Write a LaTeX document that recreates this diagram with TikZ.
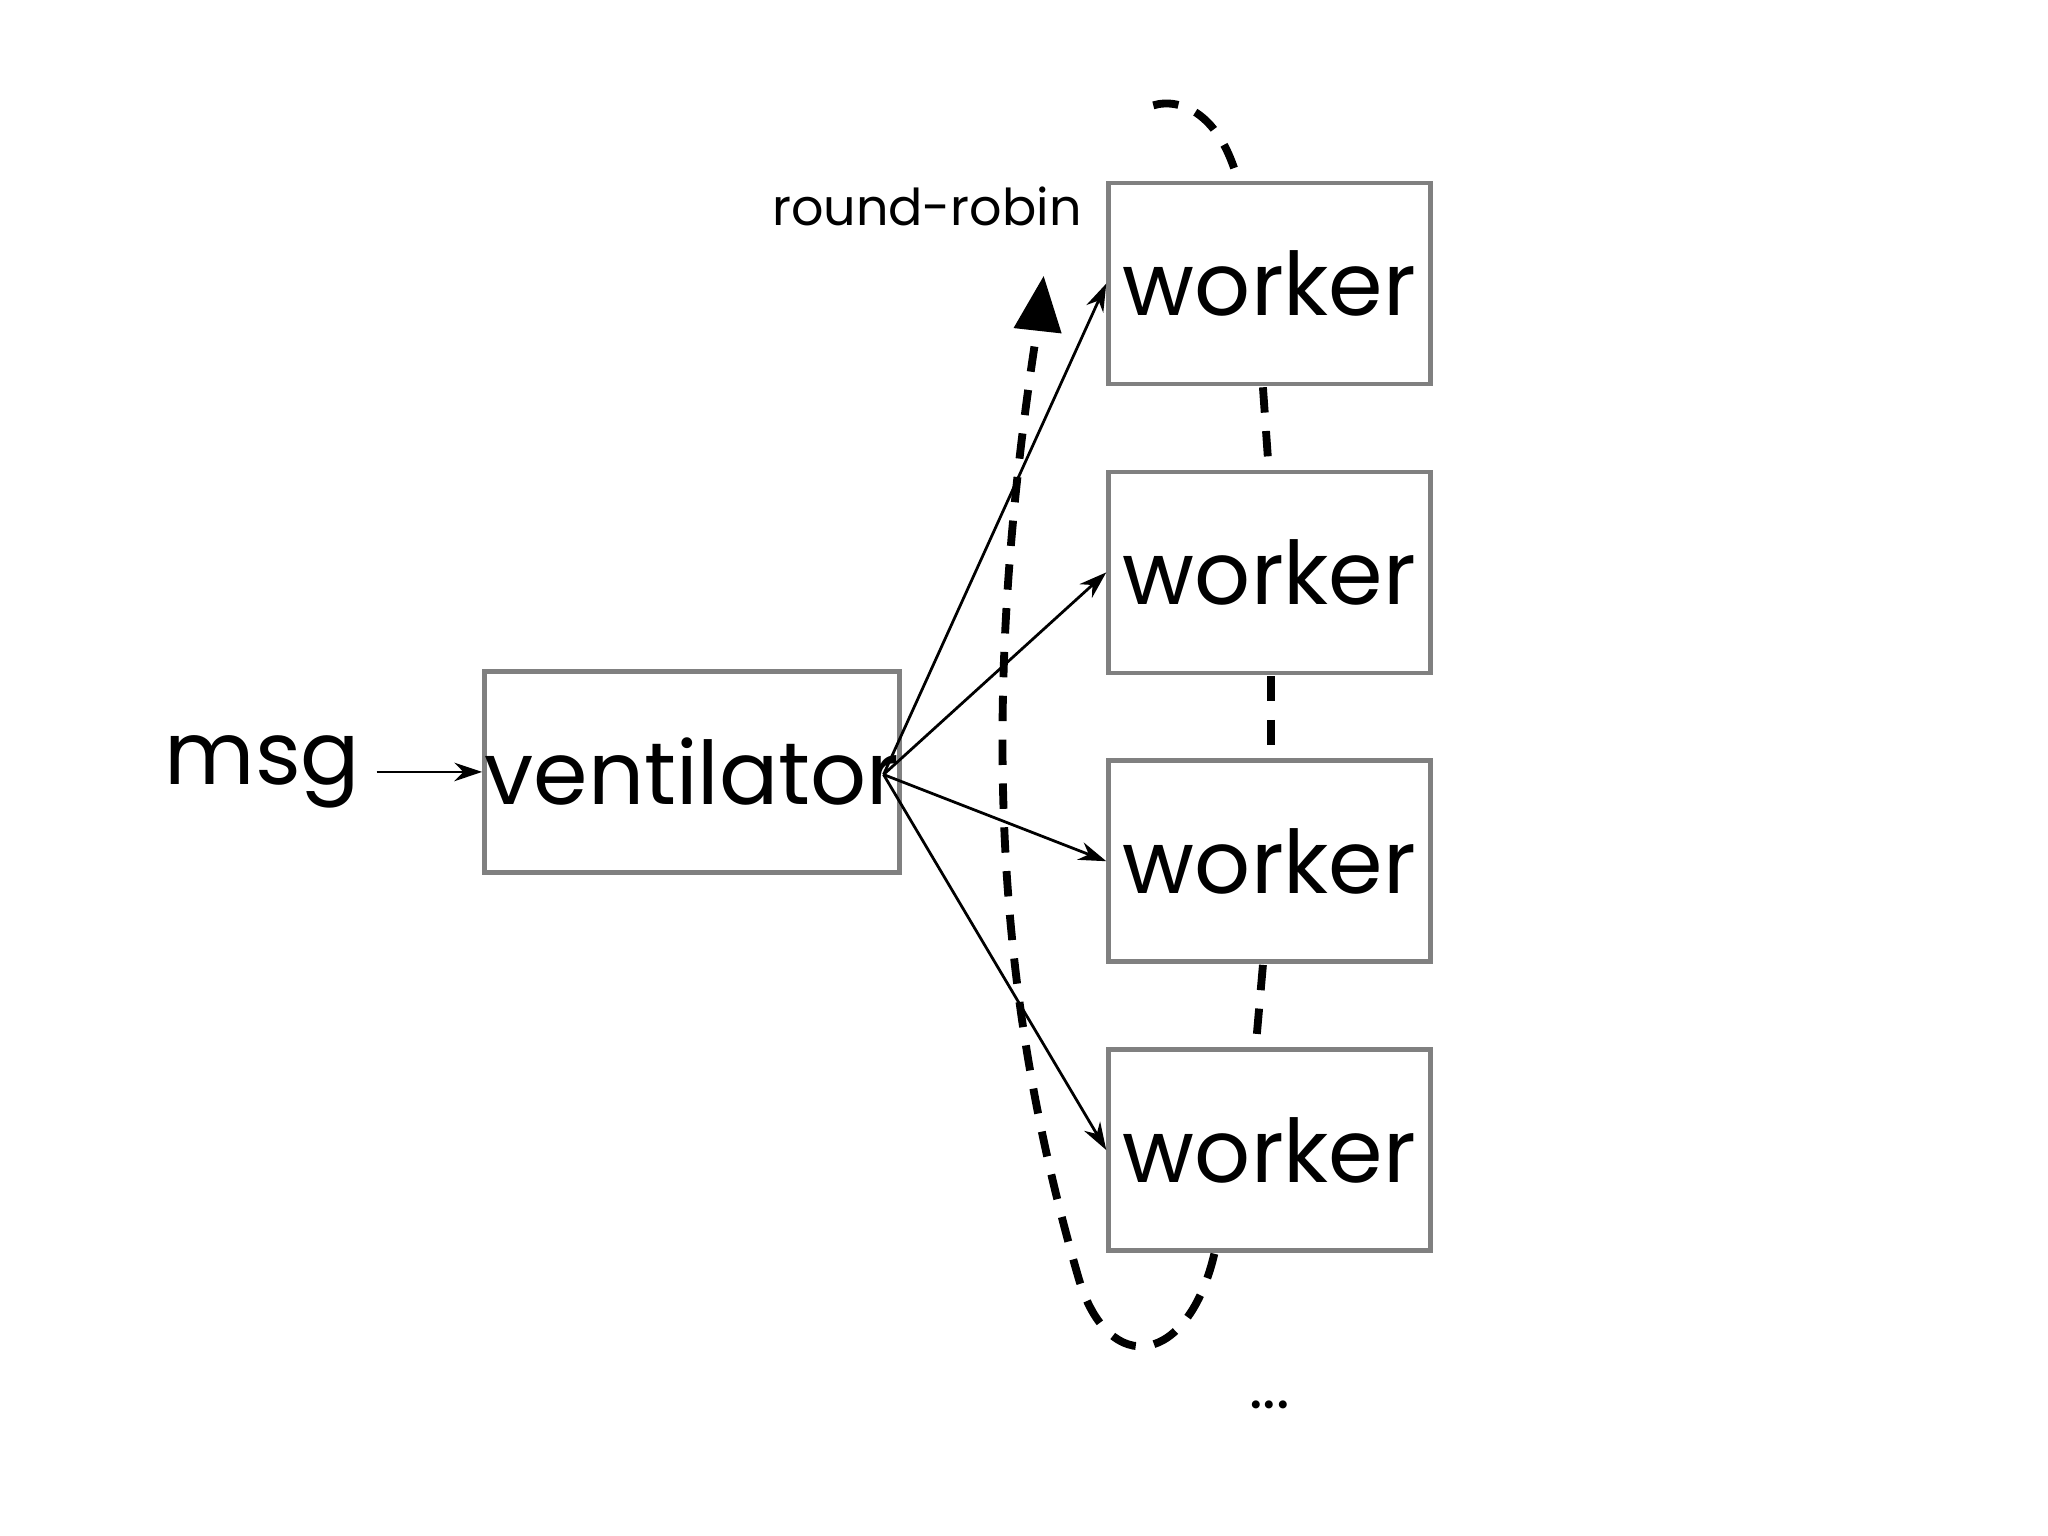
\documentclass[tikz,border=0pt]{standalone}
\usepackage{fontspec}
\setmainfont{Poppins}
\usetikzlibrary{arrows.meta}
\begin{document}
\begin{tikzpicture}[x=0.01cm,y=-0.01cm,
  box/.style={draw=black!50,line width=1pt,minimum width=2.45cm,minimum height=1.53cm,inner sep=0pt,font=\fontsize{19}{22}\selectfont},
  thin/.style={line width=0.6pt,-{Stealth[length=6pt,width=4pt]}},
  loop/.style={line width=1.7pt,dash pattern=on 5.5pt off 4pt}]
\useasboundingbox (0,0) rectangle (1560,1170);
\node[box] (w1) at (967,216) {worker};
\node[box] (w2) at (967,436) {worker};
\node[box] (w3) at (967,656) {worker};
\node[box] (w4) at (967,876) {worker};
\node[box,minimum width=2.9cm] (v) at (527,588) {ventilator};
\node[font=\fontsize{19}{22}\selectfont] (m) at (200,588) {msg};
\node[font=\fontsize{11}{13}\selectfont] (rr) at (706,157) {round-robin};
\node[font=\fontsize{14}{16}\selectfont] (dots) at (967,1070) {...};
\draw[thin] (m.east) -- (v.west);
\coordinate (vo) at (673,590);
\draw[thin] (vo) -- (w1.west);
\draw[thin] (vo) -- (w2.west);
\draw[thin] (vo) -- (w3.west);
\draw[thin] (vo) -- (w4.west);
% dashed round-robin loop
\draw[loop] (962,295) -- (966,352);
\draw[loop] (968,515) -- (968,572);
\draw[loop] (962,735) -- (957,792);
\draw[loop] (925,955) .. controls (905,1040) and (845,1050) .. (822,975)
  .. controls (765,780) and (740,560) .. (792,238);
\draw[loop,dash pattern=on 0pt off 0pt,-{Triangle[length=12pt,width=10pt]}] (793,228) -- (795,210);
\draw[loop] (940,128) .. controls (920,70) and (880,75) .. (870,85);
\end{tikzpicture}
\end{document}
